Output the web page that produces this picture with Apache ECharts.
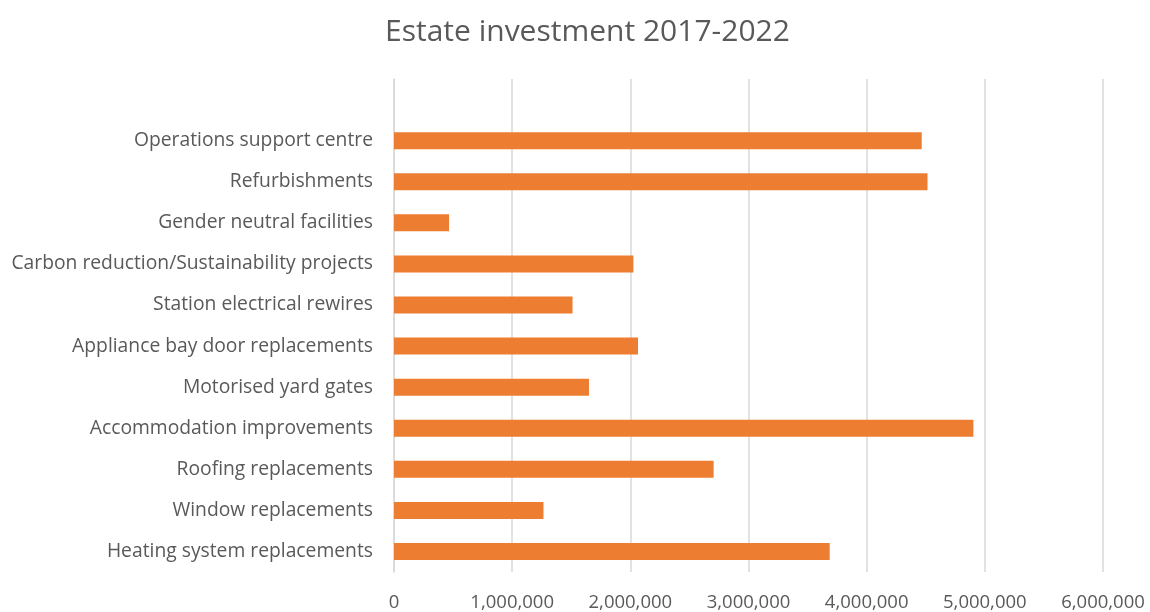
<!DOCTYPE html>
<html>
<head>
<meta charset="utf-8">
<script src="https://cdn.jsdelivr.net/npm/echarts@6/dist/echarts.min.js"></script>
<style>
  html, body { margin: 0; padding: 0; background: #fff; }
  #chart { width: 1150px; height: 612px; }
</style>
</head>
<body>
<div id="chart"></div>
<script>
// Projects, listed from the bottom of the chart upwards
const categories = [
  'Heating system replacements',
  'Window replacements',
  'Roofing replacements',
  'Accommodation improvements',
  'Motorised yard gates',
  'Appliance bay door replacements',
  'Station electrical rewires',
  'Carbon reduction/Sustainability projects',
  'Gender neutral facilities',
  'Refurbishments',
  'Operations support centre'
];
// Spend per project (£)
const investment = [
  3687000, 1265000, 2705000, 4903000, 1650000, 2065000,
  1511000, 2026000, 466000, 4515000, 4466000
];
const xTicks = [0, 1000000, 2000000, 3000000, 4000000, 5000000, 6000000];

const FONT = '"Open Sans", sans-serif';
const TEXT = '#595959';

const chart = echarts.init(document.getElementById('chart'));
chart.setOption({
  animation: false,
  title: {
    text: 'Estate investment 2017-2022',
    left: 380,
    top: 12,
    textStyle: { fontFamily: FONT, fontSize: 30, fontWeight: 'normal', color: TEXT }
  },
  grid: { left: 394, right: 47, top: 79, bottom: 40, containLabel: false },
  xAxis: {
    type: 'value',
    min: xTicks[0],
    max: xTicks[xTicks.length - 1],
    interval: xTicks[1] - xTicks[0],
    axisLine: { show: false },
    axisTick: { show: false },
    splitLine: { lineStyle: { color: '#d9d9d9', width: 1.5 } },
    axisLabel: {
      margin: 21,
      fontFamily: FONT, fontSize: 18.5, color: TEXT,
      formatter: v => v.toLocaleString('en-US')
    }
  },
  yAxis: {
    type: 'category',
    // an empty slot above the top bar leaves headroom in the plot area
    data: categories.concat(['']),
    axisLine: { show: true, lineStyle: { color: '#d9d9d9', width: 1.5 } },
    axisTick: { show: false },
    axisLabel: { margin: 21, fontFamily: FONT, fontSize: 19.3, color: TEXT }
  },
  series: [{
    type: 'bar',
    data: investment,
    barWidth: 17,
    itemStyle: { color: '#ED7D31' }
  }]
});
</script>
</body>
</html>
